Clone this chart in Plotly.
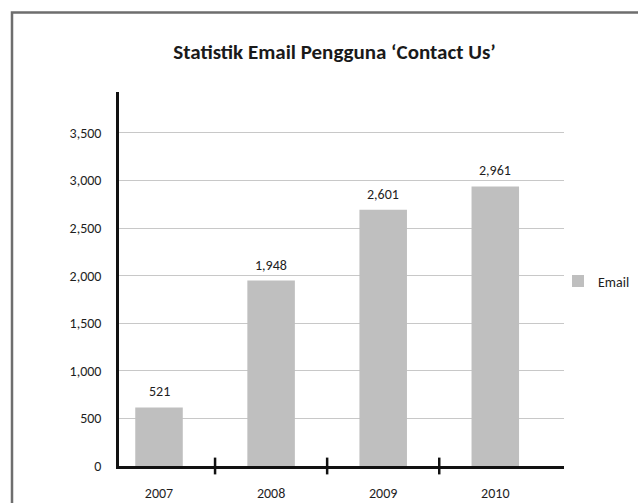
import plotly.graph_objects as go

years = ["2007", "2008", "2009", "2010"]
bar_heights = [615, 1948, 2692, 2936]
bar_labels = ["521", "1,948", "2,601", "2,961"]
y_ticks = [0, 500, 1000, 1500, 2000, 2500, 3000, 3500]
series_name = "Email"
title_text = "Statistik Email Pengguna \u2018Contact Us\u2019"

FONT = "Carlito, Lato, 'Open Sans', sans-serif"
TXT = "#1e1e1e"
FS = 14
idx = list(range(len(years)))
boundaries = [i + 0.5 for i in idx[:-1]]

W, H = 638, 503
ml, mr, mt, mb = 119, 74, 92, 37
pw = W - ml - mr
ph = H - mt - mb

fig = go.Figure()
fig.add_trace(go.Bar(
    x=idx, y=bar_heights, name=series_name,
    marker=dict(color="#bfbfbf", line=dict(width=0)),
    width=0.424,
))
fig.add_trace(go.Scatter(
    x=boundaries, y=[0] * len(boundaries), mode="markers",
    marker=dict(symbol="line-ns", size=12, line=dict(width=2.5, color="#111111")),
    showlegend=False, hoverinfo="skip", cliponaxis=False,
))

annotations = [
    dict(x=i, y=h, xref="x", yref="y", text=t, showarrow=False,
         yanchor="bottom", yshift=5,
         font=dict(size=FS, family=FONT, color=TXT))
    for i, h, t in zip(idx, bar_heights, bar_labels)
]

fig.update_layout(
    width=W, height=H,
    margin=dict(l=ml, r=mr, t=mt, b=mb, pad=0, autoexpand=False),
    paper_bgcolor="white", plot_bgcolor="white",
    font=dict(family=FONT, size=FS, color=TXT),
    title=dict(text="<b>" + title_text + "</b>", xref="container", x=334.5 / W,
               xanchor="center", yref="container", y=1 - 52 / H, yanchor="middle",
               automargin=False,
               font=dict(size=21, family=FONT, color="#1a1a1a")),
    showlegend=True,
    legend=dict(x=(558 - ml) / pw, xanchor="left",
                y=(H - mb - 281.5) / ph, yanchor="middle",
                font=dict(size=FS, family=FONT, color=TXT),
                itemwidth=30, bgcolor="rgba(0,0,0,0)", borderwidth=0),
    annotations=annotations,
    xaxis=dict(
        range=[-0.357, 3.613], tickvals=idx, ticktext=years,
        showgrid=False, zeroline=False, showline=True,
        linecolor="#111111", linewidth=2.5, ticks="",
        ticklabelstandoff=12, automargin=False,
        tickfont=dict(size=FS, family=FONT, color=TXT),
    ),
    yaxis=dict(
        range=[0, (H - mb - mt) / 0.0952], tickvals=y_ticks, tickformat=",",
        showgrid=True, gridcolor="#c8c8c8", gridwidth=1,
        zeroline=False, showline=True, linecolor="#111111", linewidth=2.5,
        ticks="", ticklabelstandoff=12, automargin=False,
        tickfont=dict(size=FS, family=FONT, color=TXT),
    ),
    shapes=[dict(
        type="rect", xref="paper", yref="paper",
        x0=(12 - ml) / pw, x1=(W + 20 - ml) / pw,
        y0=(H - mb - (H + 20)) / ph, y1=(H - mb - 12.5) / ph,
        line=dict(color="#6e6e6e", width=2.5), fillcolor="rgba(0,0,0,0)",
        layer="below",
    )],
)

fig.write_html("out.html", config={"displayModeBar": False},
               post_script="document.body.style.margin='0px';document.body.style.overflow='hidden';")
